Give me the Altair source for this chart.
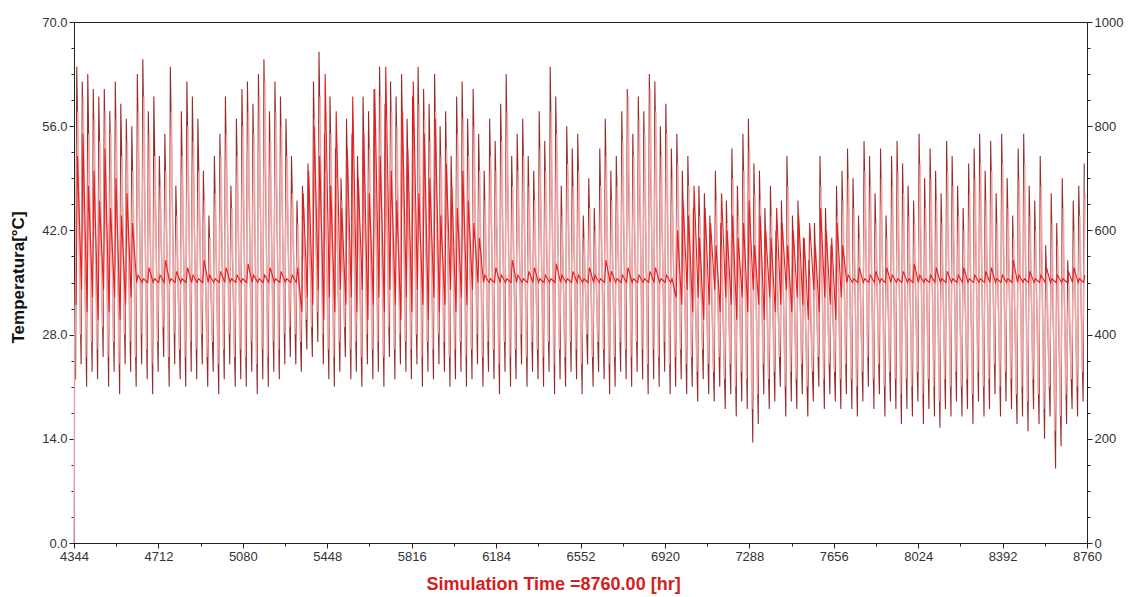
import altair as alt
import pandas as pd

START_HOUR = 4344
END_HOUR = 8760

# Daily extremes of the collector outlet temperature (dark trace), one value per day
dark_max = [
    64, 62, 63, 61, 60, 61, 58, 62, 59, 57,
    56, 63, 65, 58, 60, 52, 55, 64, 48, 58,
    62, 60, 57, 50, 44, 52, 55, 60, 48, 57,
    61, 62, 59, 63, 65, 58, 62, 60, 57, 52,
    46, 48, 51, 62, 66, 55, 60, 53, 49, 57,
    55, 52, 60, 58, 61, 64, 59, 62, 60, 63,
    57, 60, 64, 61, 59, 63, 56, 58, 52, 60,
    62, 57, 61, 55, 50, 57, 54, 59, 63, 52,
    55, 57, 52, 50, 58, 54, 64, 60, 48, 56,
    53, 55, 44, 49, 45, 53, 57, 50, 52, 58,
    61, 55, 60, 58, 63, 62, 56, 59, 53, 55,
    50, 52, 45, 48, 47, 44, 50, 43, 46, 53,
    48, 55, 57, 51, 50, 45, 48, 42, 46, 52,
    44, 46, 41, 38, 43, 52, 45, 40, 48, 50,
    53, 49, 44, 54, 52, 47, 53, 44, 52, 54,
    51, 48, 46, 55, 49, 53, 50, 47, 54, 52,
    48, 45, 51, 53, 55, 50, 54, 47, 55, 49,
    44, 53, 55, 48, 46, 52, 40, 47, 43, 49,
    38, 46, 48, 51,
]
dark_min = [
    22, 24, 21, 23, 22, 25, 21, 23, 20, 24,
    23, 21, 24, 22, 20, 23, 25, 21, 24, 22,
    21, 23, 22, 24, 21, 23, 20, 22, 24, 21,
    22, 21, 23, 20, 22, 21, 23, 22, 24, 25,
    24, 23, 26, 25, 27, 24, 22, 21, 23, 25,
    22, 23, 21, 24, 22, 23, 21, 25, 22, 24,
    23, 22, 24, 21, 23, 22, 24, 23, 21, 22,
    23, 21, 22, 24, 21, 23, 22, 20, 23, 21,
    22, 24, 21, 23, 22, 21, 23, 20, 22, 21,
    23, 22, 20, 24, 21, 23, 22, 20, 21, 23,
    22, 21, 23, 22, 20, 22, 21, 23, 20, 21,
    22, 20, 21, 19, 22, 20, 19, 21, 18, 20,
    17, 19, 18, 13.5, 16, 20, 18, 19, 21, 17,
    19, 18, 20, 17, 19, 21, 18, 20, 19, 18,
    20, 18, 17, 19, 21, 18, 20, 17, 19, 18,
    16, 18, 17, 19, 16, 18, 17, 15.5, 18, 17,
    19, 17, 18, 16, 19, 17, 18, 20, 17, 19,
    18, 16, 17, 15, 18, 16, 14, 17, 10, 13,
    16, 18, 17, 19,
]

# Daily extremes of the second temperature (light trace)
pink_max = [
    58, 60, 55, 57, 54, 58, 55, 57, 52, 54,
    50, 58, 60, 55, 52, 48, 50, 58, 44, 52,
    56, 54, 50, 46, 41, 47, 52, 55, 45, 52,
    56, 58, 55, 60, 62, 54, 58, 56, 52, 47,
    43, 45, 48, 57, 60, 50, 55, 49, 46, 52,
    50, 48, 55, 53, 57, 60, 55, 58, 56, 58,
    52, 55, 59, 57, 54, 58, 52, 53, 48, 55,
    57, 52, 56, 50, 46, 52, 50, 54, 58, 48,
    50, 52, 48, 46, 53, 50, 58, 55, 44, 51,
    48, 50, 41, 45, 42, 48, 52, 46, 48, 54,
    60, 52, 57, 55, 61, 58, 52, 55, 49, 51,
    46, 48, 42, 44, 43, 41, 46, 40, 43, 49,
    44, 50, 53, 47, 46, 42, 44, 39, 42, 48,
    41, 43, 38, 36, 40, 48, 42, 38, 44, 46,
    49, 45, 41, 50, 48, 43, 49, 41, 48, 50,
    47, 44, 43, 51, 45, 49, 46, 43, 50, 48,
    44, 42, 47, 49, 51, 46, 50, 43, 51, 45,
    41, 49, 51, 44, 42, 48, 37, 43, 40, 45,
    35, 42, 44, 47,
]
pink_min = [
    26, 28, 25, 27, 26, 29, 25, 27, 24, 28,
    27, 25, 28, 26, 24, 27, 29, 25, 28, 26,
    25, 27, 26, 28, 25, 27, 24, 26, 28, 25,
    26, 25, 27, 24, 26, 25, 27, 26, 28, 29,
    28, 27, 30, 29, 31, 28, 26, 25, 27, 29,
    26, 27, 25, 28, 26, 27, 25, 29, 26, 28,
    27, 26, 28, 25, 27, 26, 28, 27, 25, 26,
    27, 25, 26, 28, 25, 27, 26, 24, 27, 25,
    26, 28, 25, 27, 26, 25, 27, 24, 26, 25,
    27, 26, 24, 28, 25, 27, 26, 24, 25, 27,
    26, 25, 27, 26, 24, 26, 25, 27, 24, 25,
    26, 24, 25, 23, 26, 24, 23, 25, 22, 24,
    21, 23, 22, 18, 20, 24, 22, 23, 25, 21,
    23, 22, 24, 21, 23, 25, 22, 24, 23, 22,
    24, 22, 21, 23, 25, 22, 24, 21, 23, 22,
    20, 22, 21, 23, 20, 22, 21, 19, 22, 21,
    23, 21, 22, 20, 23, 21, 22, 24, 21, 23,
    22, 20, 21, 19, 22, 20, 18, 21, 15, 17,
    20, 22, 21, 23,
]

# Storage temperature (bright trace): daily base and daily peak;
# it sits on the 35 °C set point whenever the store is not charged
red_base = [
    32, 34, 31, 33, 30, 34, 31, 33, 30, 32,
    33, 35, 35, 35, 35, 35, 35, 35, 35, 35,
    35, 35, 35, 35, 35, 35, 35, 35, 35, 35,
    35, 35, 35, 35, 35, 35, 35, 35, 35, 35,
    35, 31, 33, 32, 34, 30, 33, 31, 34, 32,
    33, 31, 34, 30, 32, 33, 31, 34, 32, 30,
    33, 31, 34, 32, 30, 33, 31, 32, 34, 31,
    33, 32, 34, 35, 35, 35, 35, 35, 35, 35,
    35, 35, 35, 35, 35, 35, 35, 35, 35, 35,
    35, 35, 35, 35, 35, 35, 35, 35, 35, 35,
    35, 35, 35, 35, 35, 35, 35, 35, 35, 33,
    32, 34, 31, 33, 30, 32, 34, 31, 33, 32,
    30, 33, 31, 34, 32, 30, 33, 31, 32, 34,
    31, 33, 32, 30, 34, 31, 33, 32, 30, 33,
    35, 35, 35, 35, 35, 35, 35, 35, 35, 35,
    35, 35, 35, 35, 35, 35, 35, 35, 35, 35,
    35, 35, 35, 35, 35, 35, 35, 35, 35, 35,
    35, 35, 35, 35, 35, 35, 35, 35, 35, 35,
    35, 35, 35, 35,
]
red_peak = [
    52, 55, 48, 50, 46, 53, 45, 49, 44, 47,
    43, 36, 35.5, 37, 35.5, 36, 38, 35.5, 36.5, 35.5,
    37, 36, 35.5, 38, 36, 35.5, 36.5, 37, 35.5, 36,
    35.5, 37.5, 36, 35.5, 36, 37, 35.5, 36.5, 35.5, 36,
    37, 47, 50, 56, 52, 63, 48, 58, 45, 53,
    60, 49, 55, 47, 61, 52, 64, 50, 46, 58,
    53, 62, 47, 55, 49, 57, 44, 51, 48, 45,
    50, 46, 43, 41, 36, 35.5, 37, 36, 35.5, 38,
    36, 35.5, 36.5, 37, 35.5, 36, 35.5, 37.5, 36, 35.5,
    36.5, 36, 35.5, 37, 36, 35.5, 38, 36.5, 35.5, 36,
    37, 35.5, 36, 35.5, 36.5, 37, 35.5, 36, 35.5, 42,
    46, 44, 48, 41, 45, 43, 40, 47, 42, 44,
    41, 43, 46, 40, 44, 42, 41, 45, 43, 40,
    42, 44, 41, 43, 40, 45, 42, 41, 43, 40,
    36, 35.5, 37, 35.5, 36, 36.5, 35.5, 37, 36, 35.5,
    36.5, 35.5, 37.5, 36, 35.5, 36, 37, 35.5, 36.5, 35.5,
    36, 37, 35.5, 36, 35.5, 36.5, 37, 35.5, 36, 35.5,
    38, 36, 35.5, 36.5, 35.5, 36, 37, 35.5, 36, 35.5,
    36.5, 37, 35.5, 36,
]

# Hour of day at which each trace reaches its low and its high
DARK_HOURS = (7, 12)
PINK_HOURS = (3, 17)
RED_HOURS = (9, 15)

minor_x = list(range(START_HOUR, END_HOUR + 1, 92))
minor_y = [i * 3.5 for i in range(21)]


def daily_trace(lows, highs, hours, first=None):
    rows = []
    if first is not None:
        rows.append({"hour": START_HOUR, "temp": first})
    for day, (lo, hi) in enumerate(zip(lows, highs)):
        base = START_HOUR + day * 24
        rows.append({"hour": base + hours[0], "temp": lo})
        rows.append({"hour": base + hours[1], "temp": hi})
    return pd.DataFrame(rows)


pink_df = daily_trace(pink_min, pink_max, PINK_HOURS, first=0)
dark_df = daily_trace(dark_min, dark_max, DARK_HOURS)
red_df = daily_trace(red_base, red_peak, RED_HOURS)

LABEL_FONT = "Liberation Sans Narrow, Arial Narrow, Liberation Sans, Arial"

x_scale = alt.Scale(domain=[START_HOUR, END_HOUR], nice=False, zero=False)
y_scale = alt.Scale(domain=[0, 70], nice=False)

x_axis = alt.Axis(
    values=minor_x,
    labelExpr=f"(datum.value - {START_HOUR}) % 368 === 0 ? datum.value : ''",
    tickSize={"condition": {"test": f"(datum.value - {START_HOUR}) % 368 === 0", "value": 5}, "value": 3},
    grid=False,
    domainColor="#222",
    tickColor="#222",
    labelColor="#333",
    labelFont=LABEL_FONT,
    labelFontSize=13,
    labelPadding=2,
    labelFlush=False,
    title="Simulation Time =8760.00 [hr]",
    titleColor="#d42020",
    titleFont=LABEL_FONT,
    titleFontSize=18,
    titleFontWeight="bold",
    titleX=479,
    titleY=41,
    titleAlign="center",
    titleBaseline="middle",
)

left_axis = alt.Axis(
    orient="left",
    values=minor_y,
    labelExpr="datum.value % 14 === 0 ? format(datum.value, '.1f') : ''",
    tickSize={"condition": {"test": "datum.value % 14 === 0", "value": 5}, "value": 3},
    grid=False,
    domainColor="#222",
    tickColor="#222",
    labelColor="#333",
    labelFont=LABEL_FONT,
    labelFontSize=13,
    labelPadding=2,
    labelFlush=False,
    title="Temperatura[°C]",
    titleColor="#111",
    titleFont="Liberation Sans, Arial",
    titleFontSize=17,
    titleFontWeight="bold",
    titleAngle=270,
    titleX=-56,
    titleY=255,
    titleAlign="center",
    titleBaseline="middle",
)

right_axis = alt.Axis(
    orient="right",
    values=minor_y,
    labelExpr="datum.value % 14 === 0 ? format(datum.value / 70 * 1000, 'd') : ''",
    tickSize={"condition": {"test": "datum.value % 14 === 0", "value": 5}, "value": 3},
    grid=False,
    domainColor="#222",
    tickColor="#222",
    labelColor="#333",
    labelFont=LABEL_FONT,
    labelFontSize=13,
    labelPadding=2,
    labelFlush=False,
    title="",
)

dark = alt.Chart(dark_df).mark_line(color="#962b2b", strokeWidth=1.1).encode(
    x=alt.X("hour:Q", scale=x_scale, axis=x_axis),
    y=alt.Y("temp:Q", scale=y_scale, axis=left_axis),
)

pink = alt.Chart(pink_df).mark_line(color="#f3b1b1", strokeWidth=1.6, opacity=0.9).encode(
    x=alt.X("hour:Q", scale=x_scale),
    y=alt.Y("temp:Q", scale=y_scale, axis=right_axis),
)

red = alt.Chart(red_df).mark_line(color="#e61e1e", strokeWidth=1.1).encode(
    x=alt.X("hour:Q", scale=x_scale),
    y=alt.Y("temp:Q", scale=y_scale, axis=None),
)

chart = (
    alt.layer(dark, pink, red)
    .resolve_scale(y="shared")
    .resolve_axis(y="independent")
    .properties(
        width=1013,
        height=521,
        autosize=alt.AutoSizeParams(type="none"),
        padding={"left": 74, "top": 22, "right": 44, "bottom": 54},
        background="white",
    )
    .configure_view(stroke="#222", strokeWidth=1)
)

chart.save("out.html", embed_options={"renderer": "svg", "actions": False})
